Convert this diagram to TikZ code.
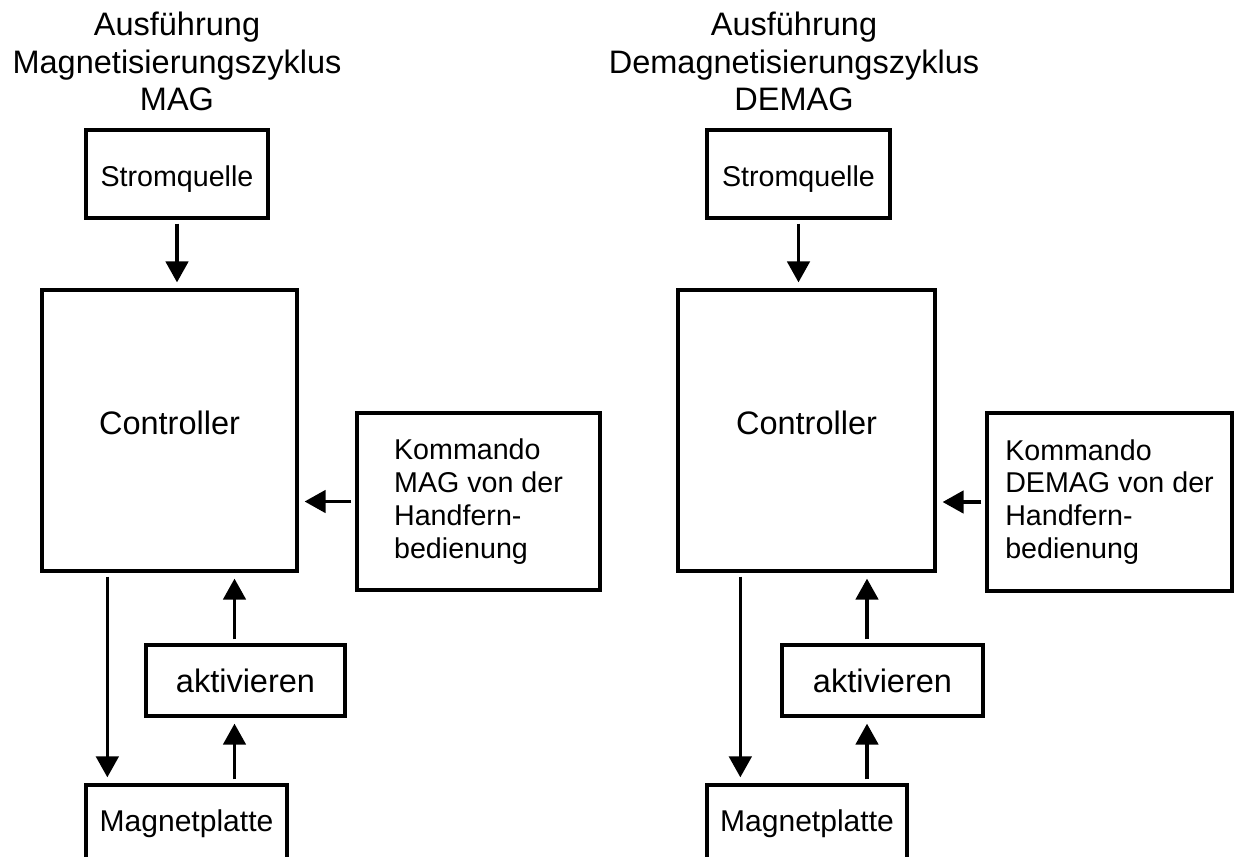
\documentclass[tikz,border=0pt]{standalone}
\usepackage{fontspec}
\setmainfont{Liberation Sans}
\usetikzlibrary{arrows.meta}

\tikzset{
  block/.style={draw, line width=1.9pt, inner sep=0pt},
  flow/.style={line width=1.9pt, -{Triangle[width=0.45cm,length=0.42cm]},
    shorten <=0.08cm, shorten >=0.12cm},
  titletext/.style={align=center, inner sep=0pt, anchor=north,
    font=\fontsize{18.5}{21.3}\selectfont},
  bigtext/.style={font=\fontsize{18.5}{21}\selectfont},
  midtext/.style={font=\fontsize{17.1}{20}\selectfont},
  smalltext/.style={font=\fontsize{16.3}{18.7}\selectfont},
}

\begin{document}
\begin{tikzpicture}[x=0.02cm, y=-0.02cm]
  \useasboundingbox (0,0) rectangle (1238,856);
  \clip (0,0) rectangle (1238,856);

  % 1. MAG cycle (left)
  \node[titletext] (titleL) at (177,12) {Ausführung\\Magnetisierungszyklus\\MAG};
  \node[block, smalltext, text height=14pt, text depth=0pt, minimum width=3.64cm, minimum height=1.76cm] (stromL) at (177,174) {Stromquelle};
  \node[block, bigtext, text depth=8.4pt, minimum width=5.1cm, minimum height=5.62cm] (ctrlL) at (169.5,430.5) {Controller};
  \node[block, smalltext, align=left, minimum width=4.86cm, minimum height=3.54cm] (komL) at (478.5,501.5)
    {Kommando\\MAG von der\\Handfern-\\bedienung};
  \node[block, bigtext, minimum width=3.98cm, minimum height=1.42cm] (actL) at (245.5,680.5) {aktivieren};
  \node[block, midtext, minimum width=4.02cm, minimum height=1.56cm] (magL) at (186.5,824) {Magnetplatte};

  \draw[flow] (stromL.south) -- (stromL.south |- ctrlL.north);
  \draw[flow] (komL.west) -- (komL.west -| ctrlL.east);
  \draw[flow] ([xshift=1.34cm]ctrlL.south west) -- ([xshift=1.34cm]ctrlL.south west |- magL.north);
  \draw[flow] ([xshift=-0.22cm]actL.south |- magL.north) -- ([xshift=-0.22cm]actL.south);
  \draw[flow] ([xshift=-0.22cm]actL.north) -- ([xshift=-0.22cm]actL.north |- ctrlL.south);

  % 2. DEMAG cycle (right)
  \node[titletext] (titleR) at (794,12) {Ausführung\\Demagnetisierungszyklus\\DEMAG};
  \node[block, smalltext, text height=14pt, text depth=0pt, minimum width=3.66cm, minimum height=1.76cm] (stromR) at (798.5,174) {Stromquelle};
  \node[block, bigtext, text depth=8.4pt, minimum width=5.14cm, minimum height=5.62cm] (ctrlR) at (806.5,430.5) {Controller};
  \node[block, smalltext, align=left, minimum width=4.9cm, minimum height=3.56cm] (komR) at (1109.5,502)
    {Kommando\\DEMAG von der\\Handfern-\\bedienung};
  \node[block, bigtext, minimum width=4.02cm, minimum height=1.42cm] (actR) at (882.5,680.5) {aktivieren};
  \node[block, midtext, minimum width=4cm, minimum height=1.56cm] (magR) at (807,824) {Magnetplatte};

  \draw[flow] (stromR.south) -- (stromR.south |- ctrlR.north);
  \draw[flow] (komR.west) -- (komR.west -| ctrlR.east);
  \draw[flow] ([xshift=1.28cm]ctrlR.south west) -- ([xshift=1.28cm]ctrlR.south west |- magR.north);
  \draw[flow] ([xshift=-0.31cm]actR.south |- magR.north) -- ([xshift=-0.31cm]actR.south);
  \draw[flow] ([xshift=-0.31cm]actR.north) -- ([xshift=-0.31cm]actR.north |- ctrlR.south);
\end{tikzpicture}
\end{document}
